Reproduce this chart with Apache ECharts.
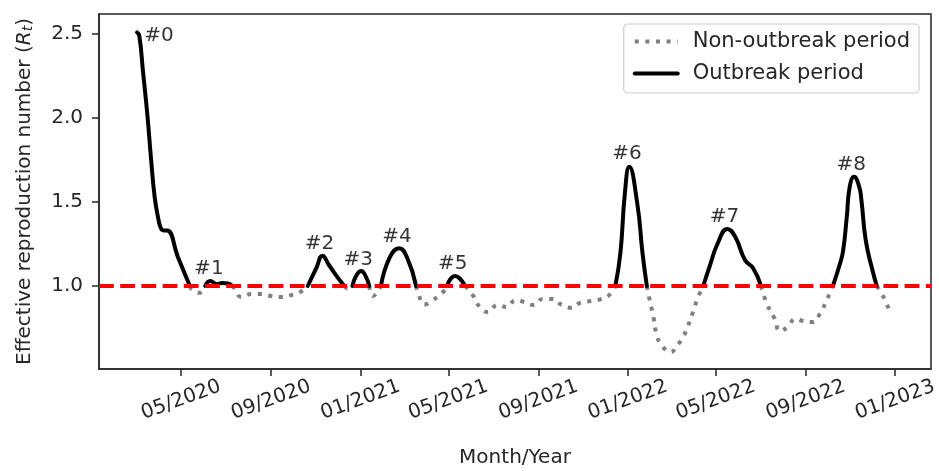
<!DOCTYPE html>
<html>
<head>
<meta charset="utf-8">
<script src="https://cdn.jsdelivr.net/npm/echarts@6/dist/echarts.min.js"></script>
<style>
  html, body { margin: 0; padding: 0; background: #fff; }
  #chart { width: 939px; height: 471px; }
</style>
</head>
<body>
<div id="chart"></div>
<script>
// 日期、Rt 值，以及每个点属于哪个时期: o = 暴发期, n = 非暴发期, b = 两者交界
var dates = [
  "2020-03-02", "2020-03-05", "2020-03-10", "2020-03-16", "2020-03-21", "2020-03-26",
  "2020-03-31", "2020-04-04", "2020-04-08", "2020-04-12", "2020-04-27", "2020-05-13",
  "2020-05-16", "2020-05-27", "2020-06-03", "2020-06-10", "2020-06-19", "2020-06-26",
  "2020-07-04", "2020-07-10", "2020-07-14", "2020-07-22", "2020-08-05", "2020-08-18",
  "2020-09-01", "2020-09-15", "2020-09-30", "2020-10-13", "2020-10-21", "2020-11-02",
  "2020-11-10", "2020-11-19", "2020-12-01", "2020-12-10", "2020-12-15", "2020-12-21",
  "2020-12-26", "2021-01-02", "2021-01-09", "2021-01-13", "2021-01-18", "2021-01-29",
  "2021-02-10", "2021-02-23", "2021-03-06", "2021-03-18", "2021-03-21", "2021-03-29",
  "2021-04-10", "2021-04-22", "2021-04-29", "2021-05-10", "2021-05-24", "2021-06-05",
  "2021-06-13", "2021-06-24", "2021-07-07", "2021-07-20", "2021-08-01", "2021-08-12",
  "2021-08-25", "2021-09-07", "2021-09-20", "2021-10-03", "2021-10-16", "2021-10-28",
  "2021-11-12", "2021-11-26", "2021-12-09", "2021-12-15", "2021-12-22", "2021-12-28",
  "2022-01-03", "2022-01-14", "2022-01-21", "2022-01-27", "2022-01-30", "2022-02-05",
  "2022-02-10", "2022-02-17", "2022-02-28", "2022-03-11", "2022-03-18", "2022-03-24",
  "2022-03-31", "2022-04-07", "2022-04-14", "2022-04-23", "2022-05-04", "2022-05-17",
  "2022-05-28", "2022-06-10", "2022-06-21", "2022-07-02", "2022-07-10", "2022-07-20",
  "2022-07-28", "2022-08-07", "2022-08-18", "2022-08-28", "2022-09-10", "2022-09-21",
  "2022-09-28", "2022-10-04", "2022-10-08", "2022-10-18", "2022-10-22", "2022-10-27",
  "2022-10-31", "2022-11-06", "2022-11-13", "2022-11-16", "2022-11-22", "2022-12-01",
  "2022-12-07", "2022-12-13", "2022-12-20", "2022-12-25"
];
var rt = [
  2.51, 2.49, 2.28, 2.02, 1.76, 1.53,
  1.40, 1.34, 1.33, 1.33, 1.17, 1.00,
  0.98, 0.96, 1.00, 1.03, 1.012, 1.018,
  1.015, 1.00, 0.982, 0.935, 0.952, 0.952,
  0.94, 0.935, 0.947, 0.97, 1.00, 1.11,
  1.18, 1.125, 1.05, 1.00, 0.985, 1.00,
  1.06, 1.09, 1.05, 1.00, 0.94, 1.00,
  1.17, 1.225, 1.165, 1.00, 0.955, 0.89,
  0.917, 0.955, 1.00, 1.06, 1.00, 0.935,
  0.875, 0.845, 0.887, 0.875, 0.917, 0.905,
  0.887, 0.923, 0.923, 0.887, 0.87, 0.90,
  0.911, 0.923, 0.955, 1.00, 1.20, 1.55,
  1.71, 1.49, 1.20, 1.00, 0.935, 0.815,
  0.70, 0.643, 0.607, 0.655, 0.70, 0.76,
  0.845, 0.935, 1.00, 1.12, 1.256, 1.34,
  1.29, 1.155, 1.107, 1.00, 0.893, 0.81,
  0.732, 0.756, 0.804, 0.792, 0.786, 0.84,
  0.90, 0.958, 1.00, 1.137, 1.21, 1.41,
  1.59, 1.65, 1.59, 1.51, 1.27, 1.095,
  1.00, 0.958, 0.90, 0.84
];
var phase = [
  "o", "o", "o", "o", "o", "o",
  "o", "o", "o", "o", "o", "b",
  "n", "n", "b", "o", "o", "o",
  "o", "b", "n", "n", "n", "n",
  "n", "n", "n", "n", "b", "o",
  "o", "o", "o", "b", "n", "b",
  "o", "o", "o", "b", "n", "b",
  "o", "o", "o", "b", "n", "n",
  "n", "n", "b", "o", "b", "n",
  "n", "n", "n", "n", "n", "n",
  "n", "n", "n", "n", "n", "n",
  "n", "n", "n", "b", "o", "o",
  "o", "o", "o", "b", "n", "n",
  "n", "n", "n", "n", "n", "n",
  "n", "n", "b", "o", "o", "o",
  "o", "o", "o", "b", "n", "n",
  "n", "n", "n", "n", "n", "n",
  "n", "n", "b", "o", "o", "o",
  "o", "o", "o", "o", "o", "o",
  "b", "n", "n", "n"
];

// 每次暴发的编号标注
var outbreakNames = ["#0", "#1", "#2", "#3", "#4", "#5", "#6", "#7", "#8"];
var outbreakLabelDates = ["2020-04-01", "2020-06-08", "2020-11-06", "2020-12-29", "2021-02-20",
  "2021-05-07", "2021-12-31", "2022-05-13", "2022-11-02"];
var outbreakLabelValues = [2.49, 1.104, 1.253, 1.158, 1.292, 1.134, 1.789, 1.414, 1.72];

var xTickDates = ["2020-05-01", "2020-09-01", "2021-01-01", "2021-05-01", "2021-09-01",
  "2022-01-01", "2022-05-01", "2022-09-01", "2023-01-01"];
var xRange = ["2020-01-10", "2023-02-19"];
var yTicks = [1.0, 1.5, 2.0, 2.5];
var threshold = 1.0;

var FONT = "DejaVu Sans";
var TXT = "#262626";

function ts(s) {
  var p = s.split("-");
  return Date.UTC(+p[0], +p[1] - 1, +p[2]);
}
function pad(n) {
  return n < 10 ? "0" + n : "" + n;
}

var outbreakData = dates.map(function (d, i) {
  return [ts(d), phase[i] === "n" ? null : rt[i]];
});
var nonOutbreakData = dates.map(function (d, i) {
  return [ts(d), phase[i] === "o" ? null : rt[i]];
});
var labelData = outbreakNames.map(function (n, i) {
  return { name: n, value: [ts(outbreakLabelDates[i]), outbreakLabelValues[i]] };
});
var xTickValues = xTickDates.map(ts);

var grayLine = { color: "#808080", width: 4, type: [4, 6.6], cap: "butt" };
var blackLine = { color: "#000000", width: 4, cap: "round" };

var myChart = echarts.init(document.getElementById("chart"));

var option = {
  animation: false,
  backgroundColor: "#fff",
  textStyle: { fontFamily: FONT },
  grid: {
    left: 99,
    right: 8,
    top: 14,
    bottom: 102,
    show: true,
    borderColor: TXT,
    borderWidth: 1.5,
    outerBoundsMode: "none",
  },
  legend: {
    orient: "vertical",
    right: 20,
    top: 24,
    data: [
      { name: "Non-outbreak period", lineStyle: grayLine },
      { name: "Outbreak period", lineStyle: blackLine },
    ],
    itemWidth: 43,
    itemHeight: 20,
    itemGap: 11,
    padding: [7, 9, 9, 9],
    itemStyle: { opacity: 0 },
    borderColor: "#cccccc",
    borderWidth: 1.2,
    borderRadius: 4,
    backgroundColor: "rgba(255,255,255,0.8)",
    textStyle: { fontFamily: FONT, fontSize: 21, color: TXT, padding: [0, 0, 0, 10] },
  },
  xAxis: {
    type: "value",
    min: ts(xRange[0]),
    max: ts(xRange[1]),
    name: "Month/Year",
    nameLocation: "middle",
    nameGap: 79,
    nameTextStyle: { fontFamily: FONT, fontSize: 20, color: TXT },
    axisLine: { show: true, lineStyle: { color: TXT, width: 1.5 } },
    axisTick: {
      show: true,
      length: 7,
      customValues: xTickValues,
      lineStyle: { color: TXT, width: 1.5 },
    },
    axisLabel: {
      customValues: xTickValues,
      rotate: 20,
      align: "center",
      verticalAlign: "middle",
      margin: 31,
      fontFamily: FONT,
      fontSize: 20,
      color: TXT,
      formatter: function (v) {
        var d = new Date(v);
        return pad(d.getUTCMonth() + 1) + "/" + d.getUTCFullYear();
      },
    },
    splitLine: { show: false },
  },
  yAxis: {
    type: "value",
    min: 0.506,
    max: 2.619,
    name: "Effective reproduction number ({it|R}{sub|t})",
    nameLocation: "middle",
    nameRotate: 90,
    nameGap: 64,
    nameTextStyle: {
      fontFamily: FONT,
      fontSize: 20,
      color: TXT,
      rich: {
        it: { fontFamily: FONT, fontSize: 20, fontStyle: "italic", color: TXT },
        sub: { fontFamily: FONT, fontSize: 14, fontStyle: "italic", color: TXT, verticalAlign: "bottom", padding: [6, 0, 0, 0] },
      },
    },
    axisLine: { show: true, lineStyle: { color: TXT, width: 1.5 } },
    axisTick: {
      show: true,
      length: 7,
      customValues: yTicks,
      lineStyle: { color: TXT, width: 1.5 },
    },
    axisLabel: {
      customValues: yTicks,
      margin: 16,
      fontFamily: FONT,
      fontSize: 20,
      color: TXT,
      formatter: function (v) {
        return v.toFixed(1);
      },
    },
    splitLine: { show: false },
  },
  series: [
    {
      name: "Non-outbreak period",
      type: "line",
      data: nonOutbreakData,
      smooth: 0.5,
      showSymbol: false,
      symbol: "none",
      connectNulls: false,
      lineStyle: grayLine,
      itemStyle: { color: "#808080" },
      z: 2,
    },
    {
      name: "Outbreak period",
      type: "line",
      data: outbreakData,
      smooth: 0.5,
      showSymbol: false,
      symbol: "none",
      connectNulls: false,
      lineStyle: blackLine,
      itemStyle: { color: "#000000" },
      z: 3,
    },
    {
      name: "threshold",
      type: "line",
      data: [],
      z: 4,
      markLine: {
        silent: true,
        symbol: ["none", "none"],
        label: { show: false },
        lineStyle: { color: "#ff0000", width: 4, type: [14.8, 6.4] },
        data: [{ yAxis: threshold }],
      },
    },
    {
      name: "labels",
      type: "scatter",
      data: labelData,
      symbolSize: 1,
      silent: true,
      itemStyle: { color: "transparent" },
      label: {
        show: true,
        position: "inside",
        formatter: "{b}",
        fontFamily: FONT,
        fontSize: 20,
        color: "#000",
      },
      z: 5,
    },
  ],
};

myChart.setOption(option);
</script>
</body>
</html>
